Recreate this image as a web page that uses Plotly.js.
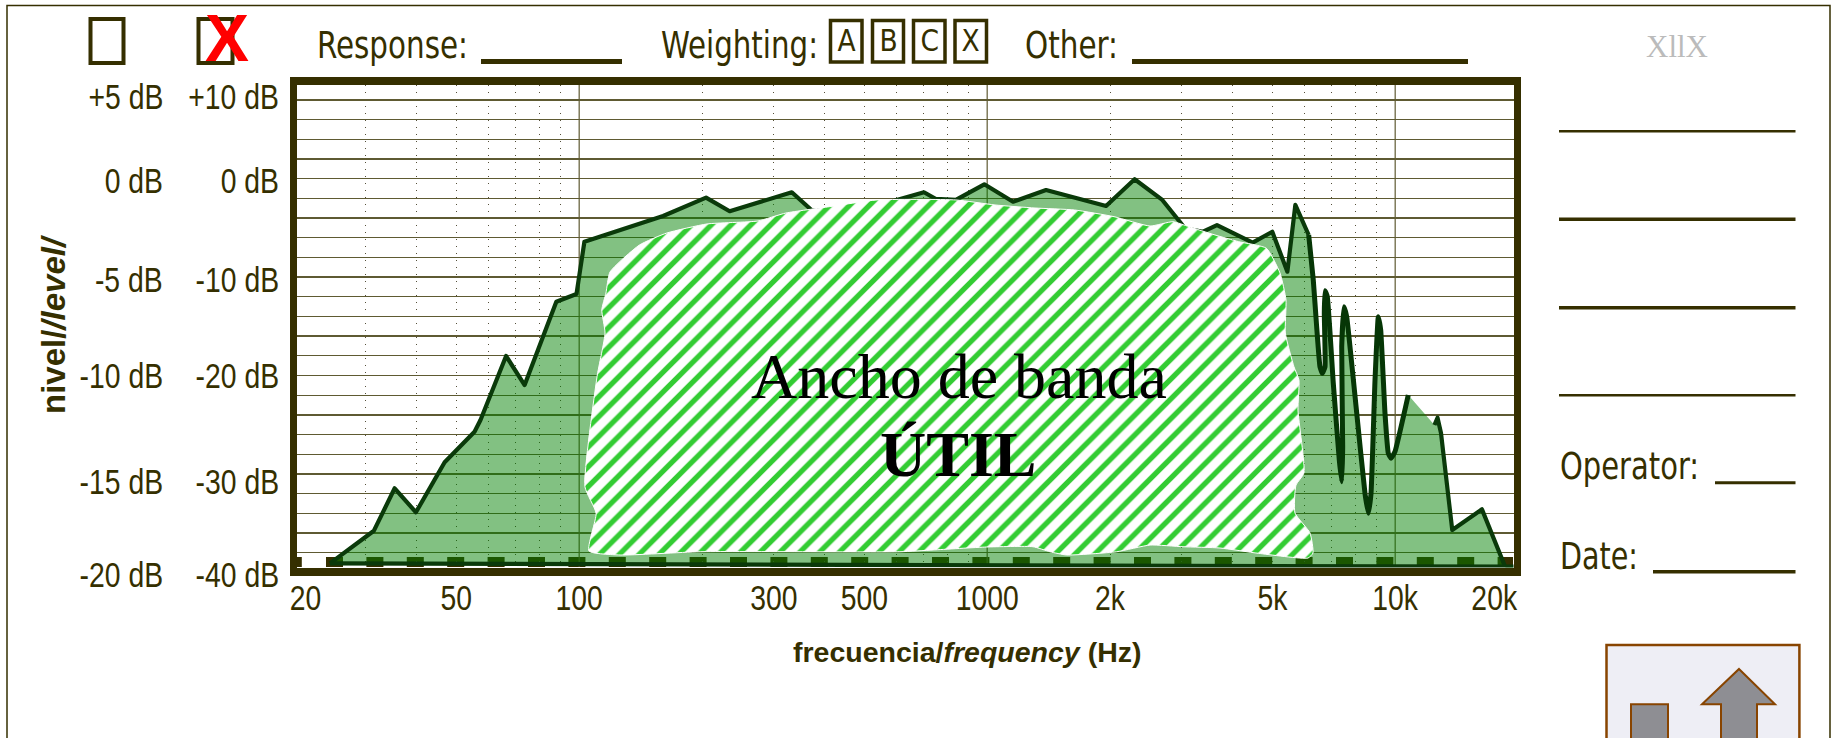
<!DOCTYPE html>
<html><head><meta charset="utf-8">
<script src="https://cdn.plot.ly/plotly-3.0.1.min.js"></script>
<style>html,body{margin:0;padding:0;background:#fff;overflow:hidden}
.js-line{stroke-linejoin:round}</style>
</head><body><div id="chart" style="width:1835px;height:738px"></div>
<script>
// Response curve (Hz, dB)
const curveHz = [24.5,31.4,35.3,39.8,46.8,55.4,57.3,66.2,73.5,87.9,98.5,103,160.6,204.6,233.8,332,371,488,600,700,749,838,984,1157,1394,1956,2298,2687,3054,3381,3658,4474,4998,5442,5692,6138];
const curveDb = [-39.09,-35.77,-31.46,-33.9,-28.82,-25.71,-24.52,-18.02,-20.97,-12.5,-11.72,-6.4,-3.79,-1.93,-3.31,-1.38,-3.18,-3.38,-2.16,-1.38,-2.06,-2.16,-0.57,-2.34,-1.15,-2.77,-0.06,-2.16,-5.04,-5.39,-4.71,-6.5,-5.39,-9.45,-2.67,-5.72];
const rippleHz = [6138,6299,6420,6541,6627,6730,6703,6730,6818,7052,7295,7395,7436,7395,7493,7606,8050,8433,8594,8726,8924,9092,9216,9441,9619,9766,9989,10767];
const rippleDb = [-5.72,-10.29,-15.04,-19.11,-19.78,-19.11,-13.65,-11.38,-11.99,-20.79,-28.59,-30.79,-27.24,-17.07,-13.01,-14.02,-23.84,-31.97,-34,-31.97,-20.46,-14.02,-15.38,-23.84,-27.91,-28.41,-27.74,-21.98];
const tailHz = [12480,12700,12950,13800,16320,18950,19940,24.5];
const tailDb = [-25.03,-24.29,-25.84,-35.7,-33.6,-40.27,-39.43,-39.09];
// Usable-bandwidth region outline (Hz, dB)
const bandHz = [116.3,119,140.5,164,205.8,274,321,410,537,838,1045,1310,1637,2046,2507,2853,3123,3617,4134,4834,5220,5400,5380,5649,5810,5778,5976,5714,5681,6183,6288,6113,4624,3720,3020,2507,2077,1566,1425,1295,997,737,611,198,126,105.7,110,103.3,110.6,115.7,113.6,116.3];
const bandDb = [-11.62,-9.48,-6.74,-5.52,-4.6,-4.3,-3.49,-2.85,-2.16,-2.16,-2.67,-2.98,-3.18,-3.86,-4.81,-4.37,-4.88,-5.72,-6.4,-7.07,-9.58,-12.33,-15.68,-19.11,-20.46,-23.51,-29.91,-31.13,-33.97,-36,-38.04,-38.55,-38.07,-37.53,-37.4,-37.23,-37.91,-38.24,-37.91,-37.4,-37.43,-37.73,-37.91,-37.91,-38.24,-37.83,-34,-31.3,-20.12,-15.68,-13.34,-11.62];
// Axes
const xTickVals = [50,100,300,500,1000,2000,5000,10000];
const xTickText = ['50','100','300','500','1000','2k','5k','10k'];
const xMajorLines = [100,1000,10000];
const xMinorLines = [30,40,50,60,70,80,90,200,300,400,500,600,700,800,900,2000,3000,4000,5000,6000,7000,8000,9000];
const yColValues = [10,0,-10,-20,-30,-40];
const yColA = ['+5 dB','0 dB','-5 dB','-10 dB','-15 dB','-20 dB'];
const yColB = ['+10 dB','0 dB','-10 dB','-20 dB','-30 dB','-40 dB'];
const yColShift = [-16,-2,-2,0,-8,-2];

const W=1835,H=738;
const ink='#352f00', grid='#5e5a32';
const px=v=>v/W, py=v=>1-v/H;
const sans='"Liberation Sans",sans-serif';
const cond='"DejaVu Sans Condensed","DejaVu Sans",sans-serif';
const serif='"Liberation Serif",serif';

function txt(x,y,t,size,family,color,anchor){return {xref:'paper',yref:'paper',x:px(x),y:py(y),text:t,showarrow:false,xanchor:anchor||'left',yanchor:'middle',font:{size:size,family:family,color:color||ink}};}
function hline(x0,x1,y,w){return {type:'line',xref:'paper',yref:'paper',x0:px(x0),x1:px(x1),y0:py(y),y1:py(y),line:{color:ink,width:w}};}
function box(x0,y0,x1,y1,w,color,fill){return {type:'rect',xref:'paper',yref:'paper',x0:px(x0),x1:px(x1),y0:py(y0),y1:py(y1),line:{color:color||ink,width:w},fillcolor:fill||'rgba(0,0,0,0)'};}

const shapes=[
 box(7,5.5,1830,760,1.5),
 box(90.5,19,123.5,63,4), box(198.5,19,232.5,63,4),
 hline(481,622,61.5,5), hline(1132,1468,61.5,5),
 box(830.5,20.5,862,62,3.5), box(872.5,20.5,903.5,62,3.5), box(913.5,20.5,945,62,3.5), box(955,20.5,986.5,62,3.5),
 hline(1559,1795.5,131.3,2.5), hline(1559,1795.5,219.3,3.5), hline(1559,1795.5,307.7,3.5), hline(1559,1795.5,395.3,2.5),
 hline(1715,1795.5,482.7,3), hline(1653,1795.5,571.7,3.5),
 box(1606.5,645,1799.4,760,2.5,'#884400','#eeeef5'),
 box(1631,704.3,1668,760,2,'#884400','#8e8e93'),
 {type:'path',xref:'paper',yref:'paper',path:`M${px(1739)},${py(669)}L${px(1775)},${py(704.3)}L${px(1757)},${py(704.3)}L${px(1757)},${py(760)}L${px(1721)},${py(760)}L${px(1721)},${py(704.3)}L${px(1702)},${py(704.3)}Z`,line:{color:'#884400',width:2},fillcolor:'#8e8e93'},
 // bottom reference dashes, under the fill
 {type:'line',xref:'x',yref:'paper',x0:20,x1:20.9,y0:py(562),y1:py(562),line:{color:ink,width:10}},
 {type:'line',xref:'paper',yref:'paper',x0:px(326),x1:px(1513),y0:py(562),y1:py(562),line:{color:ink,width:10,dash:'17px,23.4px'},layer:'below'}
];
xMajorLines.forEach(v=>shapes.push({type:'line',xref:'x',yref:'paper',x0:v,x1:v,y0:py(85),y1:py(567),line:{color:grid,width:1.2},layer:'below'}));

const annotations=[
 txt(227,38,'<b>X</b>',66,sans,'#ff0000','center'),
 txt(315,45,'Response:',37,cond), txt(659,45,'Weighting:',37,cond), txt(1023,45,'Other:',37,cond),
 txt(846,40,'A',31,cond,ink,'center'), txt(888,40,'B',31,cond,ink,'center'), txt(929.5,40,'C',31,cond,ink,'center'), txt(970.5,40,'X',31,cond,ink,'center'),
 txt(1676.5,47,'XllX',31,serif,'#bbbbbb','center'),
 txt(1558,466,'Operator:',37,cond), txt(1558,556,'Date:',37,cond),
 txt(959,376,'Ancho de banda',64,serif,'#000','center'),
 txt(959,454,'<b>ÚTIL</b>',64,serif,'#000','center'),
 txt(305.5,597,'20',35,sans,ink,'center'),
 txt(1494.5,597,'20k',35,sans,ink,'center'),
 txt(966.7,652,'<b>frecuencia/<i>frequency</i> (Hz)</b>',28.5,sans,ink,'center'),
 Object.assign(txt(54,324,'<b>nivel/<i>/level/</i></b>',33,sans,ink,'center'),{textangle:-90})
];
yColValues.forEach((v,i)=>{
 const ya=178.7-v*9.84-yColShift[i];
 annotations.push(txt(165,ya,yColA[i],35,sans,ink,'right'));
 annotations.push(txt(281,ya,yColB[i],35,sans,ink,'right'));
});

const traces=[
 {x:curveHz.concat(rippleHz,tailHz),y:curveDb.concat(rippleDb,tailDb),mode:'lines',fill:'toself',fillcolor:'rgba(0,128,0,0.49)',line:{width:0,color:'rgba(0,0,0,0)'},hoverinfo:'skip',cliponaxis:false},
 {x:curveHz,y:curveDb,mode:'lines',line:{color:'#0a3a0a',width:4.2},hoverinfo:'skip',cliponaxis:false},
 {x:rippleHz,y:rippleDb,mode:'lines',line:{color:'#063606',width:5,shape:'spline',smoothing:0.35},hoverinfo:'skip',cliponaxis:false},
 {x:tailHz,y:tailDb,mode:'lines',line:{color:'#0a3a0a',width:4.2},hoverinfo:'skip',cliponaxis:false},
 {x:bandHz,y:bandDb,mode:'lines',fill:'toself',line:{color:'#ffffff',width:1,shape:'spline',smoothing:0.5},fillcolor:'#ffffff',
  fillpattern:{shape:'/',size:14,solidity:0.38,fgcolor:'#33cc33',bgcolor:'#ffffff'},hoverinfo:'skip'}
];

const layout={
 width:W,height:H,margin:{l:0,r:0,t:0,b:0},showlegend:false,paper_bgcolor:'#fff',plot_bgcolor:'#fff',
 xaxis:{type:'log',domain:[px(296.8),px(1513.5)],range:[1.3079,4.29],tickmode:'array',tickvals:xTickVals,ticktext:xTickText,
  tickfont:{size:35,family:sans,color:ink},ticks:'',ticklen:0,ticklabelstandoff:-8,showgrid:false,zeroline:false,
  showline:true,mirror:true,linewidth:8.5,linecolor:ink,layer:'below traces',
  minor:{tickmode:'array',tickvals:xMinorLines,showgrid:true,gridcolor:'#55503a',griddash:'1px,6px',gridwidth:1,ticks:''},automargin:false},
 yaxis:{domain:[py(567.5),py(85)],range:[-39.51,9.52],tickmode:'array',tickvals:[8,6,4,2,0,-2,-4,-6,-8,-10,-12,-14,-16,-18,-20,-22,-24,-26,-28,-30,-32,-34,-36,-38],showticklabels:false,ticks:'',
  showgrid:true,gridcolor:grid,gridwidth:1.3,zeroline:false,showline:true,mirror:true,linewidth:7,linecolor:ink,layer:'below traces'},
 shapes:shapes,annotations:annotations
};
// The reference lettering is narrower than the installed faces: fit the plain labels to their widths.
const narrowFactor=0.81;
const fitted={'Response:':[151,'l'],'Weighting:':[157,'l'],'Other:':[93,'l'],'Operator:':[139,'l'],'Date:':[78,'l']};
yColA.concat(yColB).forEach(s=>fitted[s]=[0,'r']);
xTickText.concat(['20','20k']).forEach(s=>fitted[s]=[0,'c']);
['A','B','C','X'].forEach(s=>fitted[s]=[0,'c',0.95]);
Plotly.newPlot('chart',traces,layout,{displayModeBar:false,staticPlot:true}).then(()=>{
 document.querySelectorAll('.annotation-text, .xtick text').forEach(t=>{
  const f=fitted[t.textContent]; if(!f||t.querySelector('tspan')) return;
  const w=t.getComputedTextLength(), target=f[0]||w*(f[2]||narrowFactor), d=(w-target)/2;
  t.setAttribute('textLength',target); t.setAttribute('lengthAdjust','spacingAndGlyphs');
  if(f[1]!=='c') t.setAttribute('x',(+t.getAttribute('x')||0)+(f[1]==='l'?-d:d));
 });
});
</script></body></html>
